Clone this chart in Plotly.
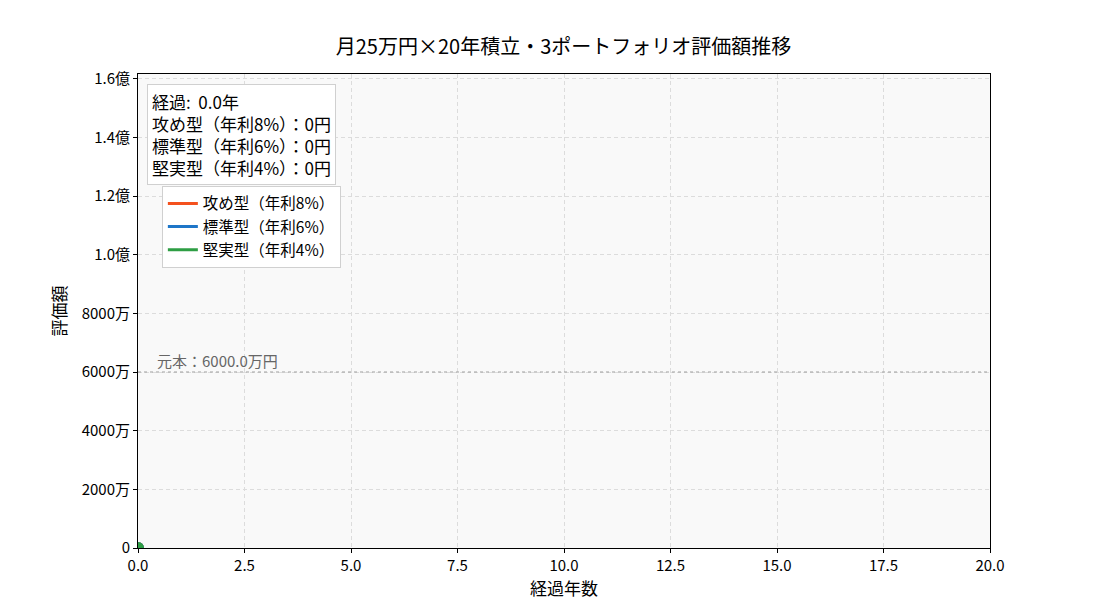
import plotly.graph_objects as go

# frame 0 of the accumulation animation
years = [0.0]
names = ["攻め型（年利8%）", "標準型（年利6%）", "堅実型（年利4%）"]
colors = ["#f4511e", "#1e76c8", "#2e9e44"]
values = {
    "攻め型（年利8%）": [0],
    "標準型（年利6%）": [0],
    "堅実型（年利4%）": [0],
}
principal = 6.0e7

ytick_vals = [0, 2e7, 4e7, 6e7, 8e7, 1.0e8, 1.2e8, 1.4e8, 1.6e8]
ytick_text = ["0", "2000万", "4000万", "6000万", "8000万", "1.0億", "1.2億", "1.4億", "1.6億"]
xtick_vals = [0, 2.5, 5, 7.5, 10, 12.5, 15, 17.5, 20]

font = "Noto Sans CJK JP, DejaVu Sans, sans-serif"

fig = go.Figure()

# principal reference line
fig.add_trace(go.Scatter(x=[0, 20], y=[principal, principal], mode="lines",
                         line=dict(color="#a0a0a0", width=1.2, dash="dot"),
                         showlegend=False, hoverinfo="skip"))

for name, c in zip(names, colors):
    fig.add_trace(go.Scatter(x=years, y=values[name], mode="lines", name=name,
                             line=dict(color=c, width=3)))
for name, c in zip(names, colors):
    fig.add_trace(go.Scatter(x=years[-1:], y=values[name][-1:], mode="markers",
                             marker=dict(color=c, size=12), showlegend=False,
                             cliponaxis=True))

fig.add_annotation(x=0.4, y=principal, xref="x", yref="y", text="元本：6000.0万円",
                   showarrow=False, xanchor="left", yanchor="bottom", yshift=-1,
                   font=dict(size=15, color="#666666"))

info = "経過:\u00a0\u00a0{:.1f}年<br>".format(years[-1]) + "<br>".join(
    f"{n}：{values[n][-1]:,}円" for n in names)
fig.add_annotation(x=0.0106, y=0.979, xref="paper", yref="paper", text=info,
                   showarrow=False, xanchor="left", yanchor="top", align="left",
                   font=dict(size=17, color="black"), bgcolor="white",
                   bordercolor="#d0d0d0", borderwidth=1, borderpad=4)

# page body has an 8px margin, so margins are shifted to keep the plot box in place
fig.update_layout(
    width=1100, height=616,
    paper_bgcolor="white", plot_bgcolor="#f9f9f9",
    font=dict(family=font, size=15, color="black"),
    margin=dict(l=130, r=118, t=66, b=76),
    title=dict(text="月25万円×20年積立・3ポートフォリオ評価額推移", x=0.505, xanchor="center",
               y=0.937, yanchor="middle", font=dict(size=20)),
    legend=dict(x=0.028, y=0.764, xanchor="left", yanchor="top",
                bgcolor="white", bordercolor="#d0d0d0", borderwidth=1,
                font=dict(size=15.5), tracegroupgap=0),
    showlegend=True,
)
fig.update_xaxes(range=[0, 20], tickvals=xtick_vals, tickformat=".1f",
                 title=dict(text="経過年数", font=dict(size=17), standoff=4),
                 showline=True, linecolor="black", linewidth=1, mirror=True,
                 ticks="outside", ticklen=4, tickcolor="black",
                 showgrid=True, gridcolor="#dcdcdc", griddash="4px,3px", zeroline=False)
fig.update_yaxes(range=[0, 1.616e8], tickvals=ytick_vals, ticktext=ytick_text,
                 title=dict(text="評価額", font=dict(size=17), standoff=10),
                 showline=True, linecolor="black", linewidth=1, mirror=True,
                 ticks="outside", ticklen=4, tickcolor="black",
                 showgrid=True, gridcolor="#dcdcdc", griddash="4px,3px", zeroline=False)

fig.write_html("out.html")
